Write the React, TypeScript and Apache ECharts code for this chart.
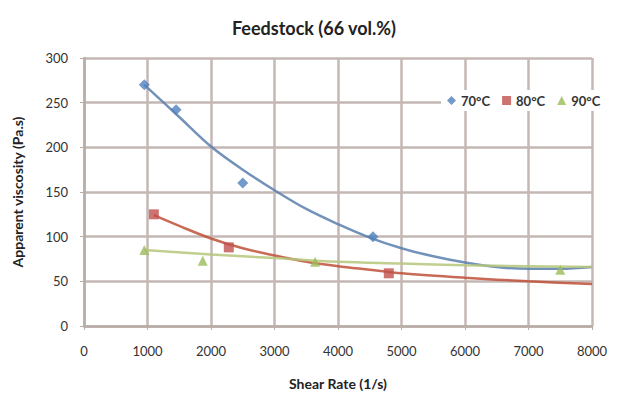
import React, { useEffect, useRef } from "react";
import * as echarts from "echarts";

// measured points
const blueX = [950, 1450, 2500, 4550];
const blueY = [270, 242, 160, 100];
const redX = [1100, 2280, 4800];
const redY = [125, 88, 59];
const greenX = [950, 1870, 3640, 7500];
const greenY = [85, 73, 72, 63];

// trend lines
const blueTrendX = [950, 1500, 2000, 2500, 3000, 3500, 4000, 4500, 5000, 5500, 6000, 6500, 7000, 7500, 8000];
const blueTrendY = [270, 234, 201, 175, 152, 131, 114, 99, 87, 78, 71, 66, 64, 64, 66];
const redTrendX = [1100, 1500, 2000, 2500, 3000, 3500, 4000, 4500, 5000, 6000, 7000, 8000];
const redTrendY = [124, 112, 98, 87, 79, 72, 67, 63, 59, 54, 50, 47];
const greenTrendX = [950, 2000, 3000, 4000, 5000, 6000, 7000, 8000];
const greenTrendY = [85, 80, 76, 72, 70, 68, 67, 66];

const seriesNames = ["70°C", "80°C", "90°C"];
const colors = ["#4f81bd", "#c0504d", "#9bbb59"];

const zip = (xs: number[], ys: number[]) => xs.map((x, i) => [x, ys[i]]);

export default function App() {
  const ref = useRef<HTMLDivElement>(null);
  useEffect(() => {
    const chart = echarts.init(ref.current!, null, { renderer: "svg" });
    const font = "Lato, 'Open Sans', sans-serif";
    const gridColor = "#c4b8b5";
    const trend = (name: string, xs: number[], ys: number[], color: string) => ({
      type: "line",
      name: name + " trend",
      data: zip(xs, ys),
      smooth: 0.35,
      showSymbol: false,
      lineStyle: { color, width: 2.5, opacity: 0.85 },
      silent: true,
      z: 2,
    });
    chart.setOption({
      animation: false,
      textStyle: { fontFamily: font },
      title: {
        text: "Feedstock (66 vol.%)",
        left: 309,
        textAlign: "center",
        top: 14,
        textStyle: { fontSize: 18, fontWeight: "bold", color: "#222", fontFamily: font },
      },
      legend: {
        data: [
          { name: seriesNames[0], icon: "diamond" },
          { name: seriesNames[1], icon: "rect" },
          { name: seriesNames[2], icon: "triangle" },
        ],
        left: 441,
        top: 90,
        itemWidth: 9,
        itemHeight: 9,
        itemGap: 12,
        padding: [4, 6],
        backgroundColor: "#fff",
        textStyle: { fontSize: 13, color: "#333", fontWeight: "bold", fontFamily: font },
      },
      grid: { left: 84, right: 33, top: 58, bottom: 74 },
      xAxis: {
        type: "value",
        min: 0,
        max: 8000,
        interval: 1000,
        name: "Shear Rate (1/s)",
        nameLocation: "middle",
        nameGap: 50,
        nameTextStyle: { fontSize: 14, fontWeight: "bold", color: "#222", fontFamily: font },
        axisLine: { lineStyle: { color: "#b8aca7", width: 2.5 } },
        axisTick: { show: true, length: 4, lineStyle: { color: "#b8aca7" } },
        axisLabel: { fontSize: 13, color: "#333", margin: 18, fontFamily: font, formatter: (v: number) => String(v) },
        splitLine: { show: true, lineStyle: { color: gridColor, width: 2.5 } },
      },
      yAxis: {
        type: "value",
        min: 0,
        max: 300,
        interval: 50,
        name: "Apparent viscosity (Pa.s)",
        nameLocation: "middle",
        nameGap: 60,
        nameTextStyle: { fontSize: 14, fontWeight: "bold", color: "#222", fontFamily: font },
        axisLine: { show: true, lineStyle: { color: "#b8aca7", width: 2.5 } },
        axisTick: { show: true, length: 4, lineStyle: { color: "#b8aca7" } },
        axisLabel: { fontSize: 13, color: "#333", margin: 16, fontFamily: font },
        splitLine: { show: true, lineStyle: { color: gridColor, width: 2.5 } },
      },
      series: [
        trend(seriesNames[0], blueTrendX, blueTrendY, "#5a7fae"),
        trend(seriesNames[1], redTrendX, redTrendY, "#c0503a"),
        trend(seriesNames[2], greenTrendX, greenTrendY, "#b6c77a"),
        {
          type: "scatter",
          name: seriesNames[0],
          data: zip(blueX, blueY),
          symbol: "diamond",
          symbolSize: 11,
          itemStyle: { color: colors[0] },
          z: 3,
        },
        {
          type: "scatter",
          name: seriesNames[1],
          data: zip(redX, redY),
          symbol: "rect",
          symbolSize: 10,
          itemStyle: { color: colors[1] },
          z: 3,
        },
        {
          type: "scatter",
          name: seriesNames[2],
          data: zip(greenX, greenY),
          symbol: "triangle",
          symbolSize: 10,
          itemStyle: { color: colors[2] },
          z: 3,
        },
      ],
    });
    return () => chart.dispose();
  }, []);
  return <div ref={ref} style={{ width: 625, height: 400, position: "absolute", left: 0, top: 0 }} />;
}
